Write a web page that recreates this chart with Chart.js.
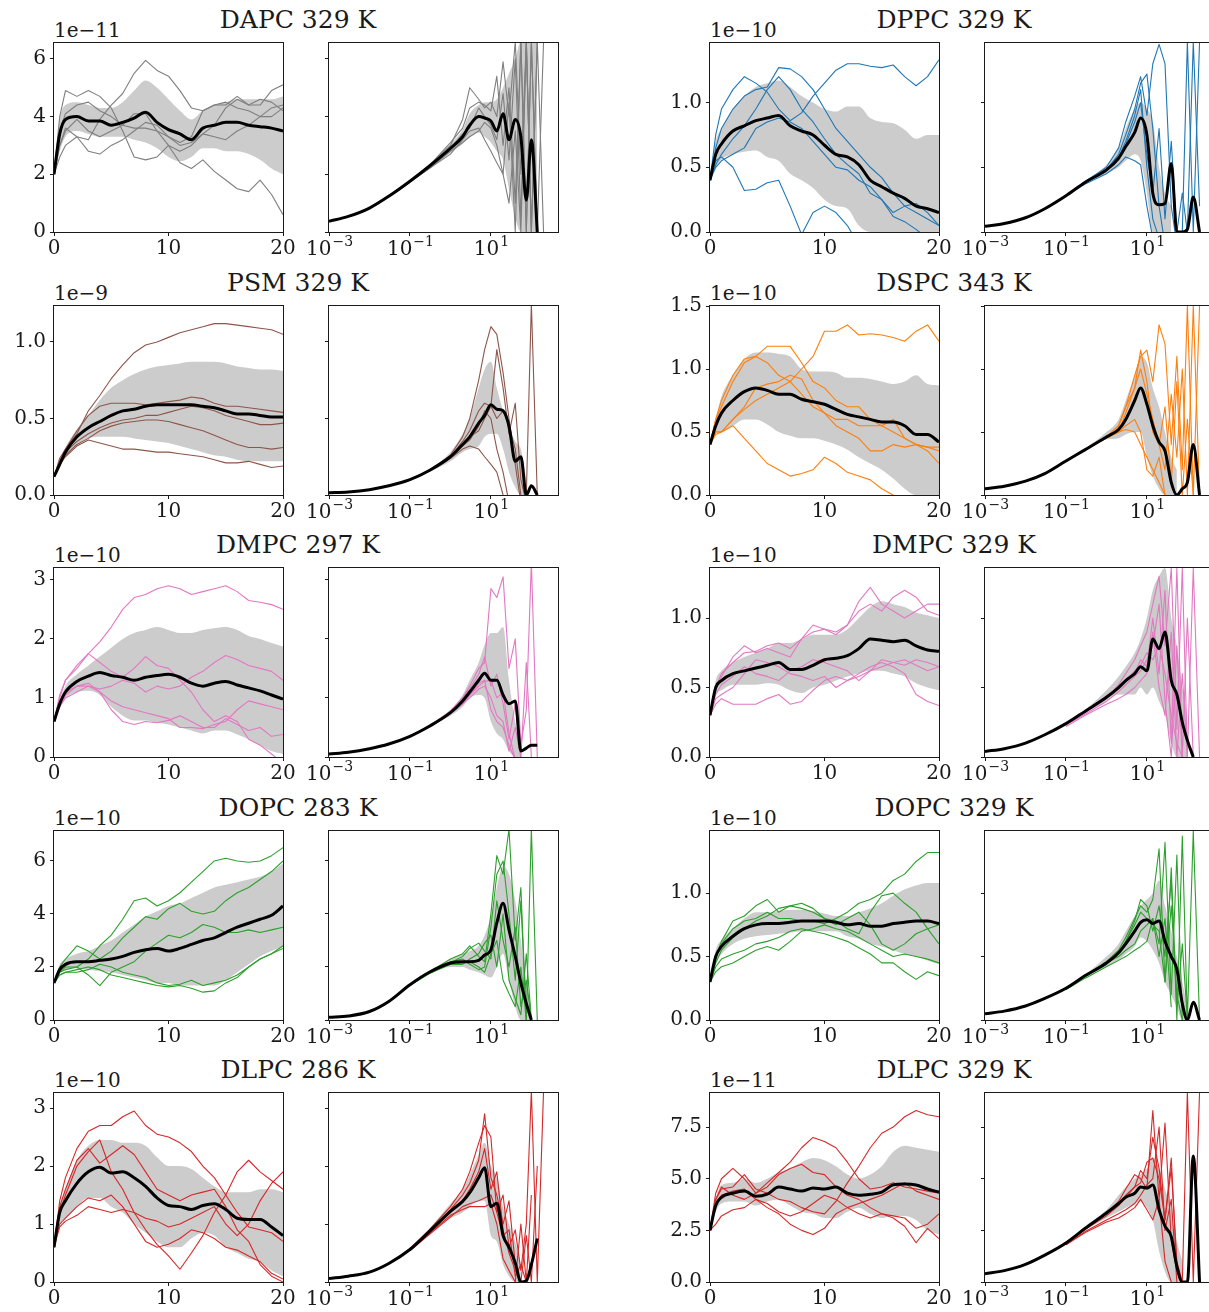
<!DOCTYPE html>
<html>
<head>
<meta charset="utf-8">
<script src="https://cdn.jsdelivr.net/npm/chart.js@4.4.0/dist/chart.umd.min.js"></script>
<style>
  html, body { margin: 0; padding: 0; background: #fff; overflow: hidden; }
  #fig { position: relative; width: 1209px; height: 1312px; overflow: hidden; font-family: "DejaVu Serif", serif; color: #1a1a1a; }
  #fig canvas { position: absolute; }
  .title { position: absolute; font-size: 25px; line-height: 28px; white-space: nowrap; transform: translateX(-50%); }
  .offset { position: absolute; font-size: 20px; line-height: 22px; white-space: nowrap; }
</style>
</head>
<body>
<div id="fig"></div>
<script>
// x grids
const LIN_X = [0, 0.5, 1, 2, 3, 4, 5, 6, 7, 8, 9, 10, 11, 12, 13, 14, 15, 16, 17, 18, 19, 20];
const LOG_X = [0.001, 0.003, 0.01, 0.03, 0.1, 0.3, 1, 2, 3, 5, 7, 10, 14, 20, 28, 40, 55, 75, 100, 140, 200];
const RUN_LOG_X = [0.1, 0.3, 1, 2, 3, 5, 7, 10, 14, 20, 28, 40, 55, 75, 100, 140, 200];
const LIN_X_TICKS = [0, 10, 20];
const LIN_X_LABELS = ["0", "10", "20"];
const LOG_X_TICKS = [1e-3, 1e-1, 1e1];
const LOG_X_BASE = "10";
const LOG_X_EXPONENTS = ["\u22123", "\u22121", "1"];

// DAPC 329 K (1e-11)
const DAPC_YTICKS = [0, 2, 4, 6];
const DAPC_YLABELS = ["0", "2", "4", "6"];
const DAPC_MEAN = [2.0, 3.4, 3.9, 4.0, 3.85, 3.85, 3.7, 3.8, 3.95, 4.15, 3.8, 3.55, 3.4, 3.2, 3.6, 3.7, 3.8, 3.8, 3.7, 3.65, 3.6, 3.5];
const DAPC_LO = [2.0, 2.8, 3.3, 3.5, 3.4, 3.3, 3.3, 3.3, 3.2, 3.1, 2.9, 2.6, 2.45, 2.6, 2.9, 2.9, 2.8, 2.8, 2.7, 2.5, 2.2, 2.0];
const DAPC_HI = [2.0, 3.9, 4.4, 4.5, 4.4, 4.3, 4.3, 4.5, 4.9, 5.25, 5.0, 4.6, 4.2, 3.9, 4.2, 4.4, 4.5, 4.6, 4.6, 4.6, 4.6, 4.7];
const DAPC_RUNS = [
  [2.0, 3.0, 3.6, 3.3, 3.2, 3.9, 4.4, 4.8, 5.5, 5.95, 5.6, 5.4, 4.9, 4.3, 4.2, 4.4, 4.4, 4.7, 4.4, 4.4, 4.9, 5.1],
  [2.0, 4.0, 4.9, 4.7, 4.9, 4.7, 4.3, 3.5, 2.6, 2.5, 2.6, 3.0, 2.8, 3.0, 3.4, 3.7, 4.3, 4.6, 4.4, 4.6, 4.5, 4.2],
  [2.0, 3.0, 3.5, 3.9, 3.5, 3.3, 3.5, 3.7, 4.1, 4.1, 3.5, 3.0, 2.4, 2.2, 2.5, 2.1, 1.8, 1.5, 1.4, 1.8, 1.3, 0.6],
  [2.0, 2.6, 3.0, 3.3, 2.8, 2.7, 3.0, 3.2, 3.5, 3.8, 3.7, 3.3, 3.0, 3.1, 3.4, 3.3, 3.2, 3.5, 3.7, 4.0, 4.3, 4.4],
  [2.0, 3.5, 4.1, 4.4, 4.5, 4.2, 4.0, 3.7, 3.6, 3.6, 3.5, 3.3, 3.1, 3.3, 4.2, 4.4, 4.5, 4.3, 4.2, 4.0, 4.0, 4.3]
];
const DAPC_LOG_MEAN = [0.37, 0.54, 0.83, 1.24, 1.76, 2.28, 2.9, 3.3, 3.7, 4.0, 3.95, 3.85, 3.5, 4.1, 3.2, 3.9, 3.3, 1.1, 3.2, 0, null];
const DAPC_LOG_LO = [0.37, 0.54, 0.83, 1.2, 1.7, 2.2, 2.75, 3.05, 3.3, 3.45, 3.3, 3.1, 2.8, 2.5, 1.5, 0.5, 0, 0, 0, 0, null];
const DAPC_LOG_HI = [0.37, 0.54, 0.83, 1.28, 1.82, 2.36, 3.05, 3.55, 4.1, 4.4, 4.5, 4.5, 4.6, 5.0, 5.5, 6.0, 6.6, 6.6, 6.6, 6.6, null];
const DAPC_LOG_RUNS = [
  [1.78, 2.3, 3.0, 3.9, 5.0, 4.6, 4.3, 4.5, 4.0, 5.9, 4.0, 6.6, 2.0, 6.6, 0, 6.6, 0],
  [1.76, 2.3, 2.9, 3.4, 3.6, 4.3, 4.0, 3.7, 3.2, 4.8, 2.5, 6.0, 0.5, 6.6, 0, 6.6, null],
  [1.74, 2.2, 2.7, 3.2, 3.5, 3.6, 3.2, 2.8, 2.4, 2.0, 4.5, 0, 6.6, 0, 6.6, 0, null],
  [1.77, 2.3, 3.1, 3.6, 4.3, 4.5, 4.4, 4.2, 5.4, 3.0, 5.0, 1.0, 6.6, 0, 6.6, 0, 6.6],
  [1.75, 2.2, 2.8, 3.1, 3.3, 3.5, 3.8, 3.6, 3.0, 2.0, 1.0, 3.5, 0, 6.6, 0, null, null]
];

// DPPC 329 K (1e-10)
const DPPC_YTICKS = [0, 0.5, 1.0];
const DPPC_YLABELS = ["0.0", "0.5", "1.0"];
const DPPC_MEAN = [0.4, 0.6, 0.68, 0.78, 0.82, 0.86, 0.88, 0.9, 0.82, 0.78, 0.75, 0.67, 0.6, 0.58, 0.52, 0.4, 0.35, 0.3, 0.26, 0.2, 0.18, 0.15];
const DPPC_LO = [0.4, 0.5, 0.56, 0.6, 0.62, 0.63, 0.58, 0.55, 0.45, 0.4, 0.34, 0.25, 0.2, 0.18, 0.05, 0, 0, 0, 0, 0, 0, 0];
const DPPC_HI = [0.4, 0.7, 0.8, 0.95, 1.05, 1.12, 1.15, 1.17, 1.12, 1.05, 1.0, 0.95, 0.93, 0.97, 0.97, 0.88, 0.85, 0.84, 0.79, 0.72, 0.75, 0.75];
const DPPC_RUNS = [
  [0.4, 0.75, 0.95, 1.1, 1.2, 1.15, 1.08, 0.95, 0.86, 0.92, 1.05, 1.15, 1.25, 1.3, 1.3, 1.28, 1.27, 1.29, 1.2, 1.13, 1.2, 1.33],
  [0.4, 0.65, 0.8, 0.95, 1.05, 1.1, 1.12, 1.27, 1.26, 1.2, 1.1, 0.95, 0.8, 0.7, 0.6, 0.5, 0.42, 0.3, 0.2, 0.15, 0.1, 0.05],
  [0.4, 0.52, 0.6, 0.72, 0.82, 0.95, 1.1, 1.2, 1.1, 0.95, 0.85, 0.72, 0.6, 0.52, 0.45, 0.3, 0.25, 0.12, 0.08, 0.02, -0.05, -0.1],
  [0.4, 0.55, 0.58, 0.5, 0.32, 0.33, 0.38, 0.4, 0.2, -0.02, 0.15, 0.2, 0.15, 0.05, -0.1, -0.1, -0.1, -0.1, -0.1, -0.1, -0.1, -0.1],
  [0.4, 0.5, 0.55, 0.6, 0.65, 0.8, 0.85, 0.88, 0.85, 0.8, 0.7, 0.6, 0.5, 0.48, 0.4, 0.35, 0.25, 0.15, 0.2, 0.22, 0.15, 0.05]
];
const DPPC_LOG_MEAN = [0.044, 0.065, 0.11, 0.18, 0.28, 0.385, 0.48, 0.57, 0.66, 0.77, 0.88, 0.75, 0.3, 0.21, 0.22, 0.53, 0, 0, 0.02, 0.27, 0];
const DPPC_LOG_LO = [0.044, 0.065, 0.11, 0.18, 0.28, 0.38, 0.45, 0.5, 0.55, 0.6, 0.55, 0.3, 0, 0, 0, 0, null, null, null, null, null];
const DPPC_LOG_HI = [0.044, 0.065, 0.11, 0.18, 0.28, 0.39, 0.52, 0.65, 0.8, 0.95, 1.0, 0.95, 0.85, 0.5, 0.3, 0.2, null, null, null, null, null];
const DPPC_LOG_RUNS = [
  [0.28, 0.39, 0.5, 0.65, 0.85, 1.05, 1.2, 0.9, 1.3, 1.45, 1.3, 0.2, -0.1, 0, 1.47, 0, 1.47],
  [0.28, 0.38, 0.48, 0.6, 0.75, 0.95, 1.15, 1.22, 0.8, 0.2, -0.1, null, null, null, null, null, null],
  [0.28, 0.37, 0.45, 0.52, 0.58, 0.55, 0.52, 0.2, -0.05, null, null, null, null, null, null, null, null],
  [0.28, 0.38, 0.47, 0.57, 0.68, 0.85, 1.0, 0.6, 0.3, 0.8, 0.1, 0.7, 0, 0.3, 0, 1.47, 0.2],
  [0.28, 0.38, 0.48, 0.58, 0.7, 0.9, 1.1, 0.5, 0.1, -0.05, null, null, null, null, null, null, null]
];

// PSM 329 K (1e-9)
const PSM_YTICKS = [0, 0.5, 1.0];
const PSM_YLABELS = ["0.0", "0.5", "1.0"];
const PSM_MEAN = [0.12, 0.2, 0.28, 0.38, 0.44, 0.48, 0.52, 0.55, 0.56, 0.58, 0.59, 0.59, 0.59, 0.59, 0.58, 0.57, 0.55, 0.53, 0.53, 0.52, 0.51, 0.51];
const PSM_LO = [0.12, 0.2, 0.25, 0.33, 0.37, 0.38, 0.38, 0.38, 0.37, 0.36, 0.35, 0.34, 0.32, 0.3, 0.28, 0.26, 0.25, 0.23, 0.22, 0.22, 0.22, 0.22];
const PSM_HI = [0.12, 0.22, 0.31, 0.43, 0.52, 0.62, 0.7, 0.75, 0.79, 0.82, 0.84, 0.85, 0.86, 0.87, 0.87, 0.87, 0.86, 0.84, 0.83, 0.82, 0.82, 0.81];
const PSM_RUNS = [
  [0.12, 0.22, 0.3, 0.4, 0.55, 0.65, 0.76, 0.85, 0.93, 0.98, 1.0, 1.03, 1.06, 1.08, 1.1, 1.12, 1.12, 1.11, 1.1, 1.09, 1.08, 1.05],
  [0.12, 0.24, 0.3, 0.42, 0.52, 0.58, 0.6, 0.6, 0.6, 0.59, 0.6, 0.61, 0.62, 0.64, 0.63, 0.6, 0.58, 0.58, 0.57, 0.56, 0.55, 0.54],
  [0.12, 0.22, 0.28, 0.35, 0.4, 0.44, 0.47, 0.49, 0.5, 0.52, 0.52, 0.54, 0.56, 0.58, 0.57, 0.55, 0.52, 0.5, 0.48, 0.46, 0.46, 0.47],
  [0.12, 0.2, 0.26, 0.33, 0.37, 0.42, 0.45, 0.47, 0.48, 0.49, 0.49, 0.48, 0.46, 0.44, 0.42, 0.39, 0.36, 0.33, 0.31, 0.31, 0.3, 0.31],
  [0.12, 0.2, 0.25, 0.32, 0.36, 0.34, 0.32, 0.3, 0.3, 0.29, 0.28, 0.28, 0.27, 0.26, 0.25, 0.23, 0.21, 0.21, 0.22, 0.2, 0.18, 0.19]
];
const PSM_LOG_MEAN = [0.015, 0.02, 0.035, 0.06, 0.1, 0.16, 0.25, 0.33, 0.38, 0.47, 0.52, 0.59, 0.56, 0.55, 0.45, 0.22, 0.25, 0.0, 0.06, 0, null];
const PSM_LOG_LO = [0.015, 0.02, 0.035, 0.06, 0.1, 0.15, 0.22, 0.28, 0.3, 0.32, 0.38, 0.4, 0.4, 0.3, 0.15, 0.05, 0, 0, null, null, null];
const PSM_LOG_HI = [0.015, 0.02, 0.035, 0.06, 0.1, 0.17, 0.28, 0.4, 0.5, 0.7, 0.82, 0.87, 0.7, 0.55, 0.45, 0.35, 0.3, 0.1, null, null, null];
const PSM_LOG_RUNS = [
  [0.1, 0.16, 0.26, 0.38, 0.5, 0.75, 0.95, 1.1, 1.05, 0.8, 0.5, 0.2, -0.05, 0, 1.25, 0, null],
  [0.1, 0.16, 0.25, 0.35, 0.42, 0.55, 0.6, 0.58, 0.95, 0.7, 0.4, 0.6, 0.1, -0.05, null, null, null],
  [0.1, 0.16, 0.25, 0.33, 0.38, 0.42, 0.5, 0.58, 0.5, 0.55, 0.45, 0.3, 0, null, null, null, null],
  [0.1, 0.16, 0.24, 0.3, 0.32, 0.3, 0.25, 0.2, 0.15, 0.0, null, null, null, null, null, null, null],
  [0.1, 0.16, 0.25, 0.32, 0.36, 0.45, 0.55, 0.5, 0.3, 0.15, -0.05, null, null, null, null, null, null]
];

// DSPC 343 K (1e-10)
const DSPC_YTICKS = [0, 0.5, 1.0, 1.5];
const DSPC_YLABELS = ["0.0", "0.5", "1.0", "1.5"];
const DSPC_MEAN = [0.4, 0.55, 0.65, 0.75, 0.82, 0.85, 0.83, 0.8, 0.8, 0.76, 0.74, 0.72, 0.68, 0.64, 0.62, 0.6, 0.58, 0.58, 0.55, 0.48, 0.48, 0.42];
const DSPC_LO = [0.4, 0.5, 0.5, 0.55, 0.6, 0.6, 0.56, 0.5, 0.47, 0.45, 0.45, 0.43, 0.4, 0.36, 0.3, 0.25, 0.2, 0.13, 0.05, 0, 0, 0];
const DSPC_HI = [0.4, 0.6, 0.78, 0.95, 1.08, 1.13, 1.13, 1.12, 1.1, 1.0, 0.98, 0.98, 0.97, 0.93, 0.93, 0.92, 0.9, 0.88, 0.9, 0.95, 0.88, 0.87];
const DSPC_RUNS = [
  [0.4, 0.48, 0.5, 0.6, 0.68, 0.75, 0.8, 0.85, 0.9, 1.0, 1.1, 1.3, 1.3, 1.35, 1.27, 1.28, 1.27, 1.25, 1.22, 1.3, 1.35, 1.22],
  [0.4, 0.6, 0.75, 0.95, 1.08, 1.1, 1.18, 1.18, 1.18, 1.05, 0.9, 0.85, 0.75, 0.7, 0.7, 0.6, 0.55, 0.6, 0.45, 0.4, 0.38, 0.38],
  [0.4, 0.6, 0.7, 0.9, 1.05, 1.1, 1.05, 0.95, 0.9, 0.8, 0.7, 0.65, 0.55, 0.5, 0.45, 0.35, 0.35, 0.4, 0.38, 0.4, 0.35, 0.25],
  [0.4, 0.5, 0.5, 0.6, 0.7, 0.85, 0.88, 0.9, 0.95, 0.92, 0.75, 0.65, 0.6, 0.6, 0.55, 0.55, 0.55, 0.5, 0.45, 0.4, 0.38, 0.35],
  [0.4, 0.5, 0.5, 0.55, 0.45, 0.35, 0.25, 0.2, 0.15, 0.17, 0.2, 0.3, 0.25, 0.18, 0.15, 0.12, 0.05, 0.0, -0.1, -0.1, -0.1, -0.1]
];
const DSPC_LOG_MEAN = [0.05, 0.07, 0.11, 0.17, 0.27, 0.36, 0.46, 0.52, 0.6, 0.75, 0.85, 0.72, 0.55, 0.42, 0.35, 0.1, 0.0, 0.05, 0.1, 0.4, 0];
const DSPC_LOG_LO = [0.05, 0.07, 0.11, 0.17, 0.27, 0.35, 0.44, 0.45, 0.48, 0.5, 0.5, 0.3, 0.15, 0.05, 0, 0, 0, null, null, null, null];
const DSPC_LOG_HI = [0.05, 0.07, 0.11, 0.17, 0.27, 0.37, 0.5, 0.6, 0.75, 0.95, 1.1, 1.05, 0.85, 0.7, 0.5, 0.3, 0.2, null, null, null, null];
const DSPC_LOG_RUNS = [
  [0.27, 0.36, 0.46, 0.55, 0.7, 0.95, 1.1, 1.15, 0.9, 1.35, 1.2, 0.4, 1.1, 0.2, 1.5, 0, 1.5],
  [0.27, 0.36, 0.46, 0.5, 0.55, 0.6, 0.5, 0.2, 0.15, 0.3, 0.0, null, null, null, null, null, null],
  [0.27, 0.36, 0.46, 0.55, 0.7, 0.85, 1.0, 0.8, 0.6, 0.4, 0.7, 0.1, 0.9, 0, 0.6, 0, null],
  [0.27, 0.36, 0.45, 0.5, 0.65, 0.85, 1.15, 0.9, 0.5, 0.4, 0.2, 0.8, 0.3, 1.0, 0, 1.5, 0],
  [0.27, 0.36, 0.46, 0.5, 0.52, 0.5, 0.4, 0.3, 0.2, 0.1, 0.0, null, null, null, null, null, null]
];

// DMPC 297 K (1e-10)
const DMPC297_YTICKS = [0, 1, 2, 3];
const DMPC297_YLABELS = ["0", "1", "2", "3"];
const DMPC297_MEAN = [0.6, 0.9, 1.1, 1.28, 1.37, 1.43, 1.38, 1.35, 1.3, 1.35, 1.38, 1.4, 1.35, 1.25, 1.2, 1.25, 1.28, 1.22, 1.17, 1.12, 1.05, 0.98];
const DMPC297_LO = [0.6, 0.85, 1.0, 1.1, 1.12, 1.05, 0.85, 0.7, 0.62, 0.62, 0.58, 0.55, 0.5, 0.45, 0.4, 0.45, 0.45, 0.38, 0.3, 0.2, 0.1, 0.05];
const DMPC297_HI = [0.6, 0.95, 1.2, 1.4, 1.55, 1.7, 1.85, 2.0, 2.1, 2.15, 2.2, 2.15, 2.1, 2.1, 2.15, 2.18, 2.2, 2.15, 2.05, 2.0, 1.93, 1.87];
const DMPC297_RUNS = [
  [0.6, 1.0, 1.3, 1.55, 1.75, 1.95, 2.2, 2.5, 2.7, 2.75, 2.85, 2.9, 2.85, 2.75, 2.8, 2.85, 2.9, 2.8, 2.65, 2.62, 2.58, 2.5],
  [0.6, 1.05, 1.3, 1.5, 1.75, 1.6, 1.45, 1.35, 1.5, 1.7, 1.55, 1.5, 1.3, 1.1, 0.8, 0.6, 0.7, 0.6, 0.3, 0.2, 0.05, -0.1],
  [0.6, 0.9, 1.1, 1.2, 1.2, 1.15, 1.2, 1.3, 1.25, 1.1, 1.2, 1.15, 1.2, 1.35, 1.45, 1.6, 1.72, 1.65, 1.55, 1.5, 1.45, 1.3],
  [0.6, 0.85, 1.0, 1.1, 1.2, 1.1, 0.95, 0.85, 0.8, 0.75, 0.7, 0.65, 0.5, 0.5, 0.48, 0.55, 0.6, 0.8, 0.95, 0.9, 0.85, 0.8],
  [0.6, 0.85, 1.05, 1.2, 1.25, 1.1, 0.8, 0.6, 0.55, 0.6, 0.58, 0.62, 0.7, 0.6, 0.5, 0.5, 0.65, 0.55, 0.45, 0.5, 0.35, 0.38]
];
const DMPC297_LOG_MEAN = [0.05, 0.08, 0.14, 0.22, 0.35, 0.52, 0.75, 0.95, 1.1, 1.3, 1.42, 1.3, 1.3, 1.05, 0.9, 0.95, 0.1, 0.15, 0.2, 0.2, null];
const DMPC297_LOG_LO = [0.05, 0.08, 0.14, 0.22, 0.35, 0.51, 0.7, 0.85, 1.0, 1.05, 1.0, 0.6, 0.4, 0.3, 0.1, 0, 0, null, null, null, null];
const DMPC297_LOG_HI = [0.05, 0.08, 0.14, 0.22, 0.35, 0.53, 0.8, 1.05, 1.3, 1.6, 1.9, 2.1, 2.1, 2.2, 1.3, 0.6, 0.3, null, null, null, null];
const DMPC297_LOG_RUNS = [
  [0.35, 0.52, 0.78, 1.0, 1.2, 1.5, 1.6, 2.85, 2.7, 3.05, 1.5, 2.0, 0.2, 0.8, 3.3, 0, null],
  [0.35, 0.52, 0.76, 1.0, 1.15, 1.4, 1.7, 1.2, 1.4, 0.9, 0.3, 0.9, 0, 1.6, 0, null, null],
  [0.35, 0.52, 0.75, 0.9, 1.05, 1.25, 1.3, 0.8, 0.6, 0.5, 0.2, -0.05, null, null, null, null, null],
  [0.35, 0.5, 0.73, 0.9, 1.0, 1.15, 1.2, 1.0, 0.7, 0.6, 0.1, 0.5, 0, null, null, null, null],
  [0.35, 0.51, 0.74, 0.92, 1.05, 1.2, 1.28, 1.3, 1.0, 1.1, 0.4, -0.05, null, null, null, null, null]
];

// DMPC 329 K (1e-10)
const DMPC329_YTICKS = [0, 0.5, 1.0];
const DMPC329_YLABELS = ["0.0", "0.5", "1.0"];
const DMPC329_MEAN = [0.3, 0.5, 0.55, 0.6, 0.62, 0.64, 0.66, 0.68, 0.63, 0.63, 0.66, 0.7, 0.71, 0.73, 0.78, 0.85, 0.84, 0.83, 0.84, 0.8, 0.77, 0.76];
const DMPC329_LO = [0.3, 0.45, 0.48, 0.52, 0.52, 0.52, 0.53, 0.52, 0.48, 0.46, 0.5, 0.52, 0.55, 0.58, 0.6, 0.62, 0.62, 0.6, 0.58, 0.53, 0.5, 0.48];
const DMPC329_HI = [0.3, 0.55, 0.62, 0.68, 0.72, 0.75, 0.78, 0.82, 0.82, 0.85, 0.88, 0.88, 0.88, 0.92, 1.0, 1.08, 1.12, 1.1, 1.08, 1.04, 1.02, 1.0];
const DMPC329_RUNS = [
  [0.3, 0.5, 0.58, 0.72, 0.8, 0.75, 0.78, 0.75, 0.72, 0.85, 0.9, 0.92, 0.9, 0.95, 1.12, 1.22, 1.1, 1.05, 1.0, 1.05, 1.1, 1.1],
  [0.3, 0.5, 0.6, 0.68, 0.75, 0.76, 0.8, 0.82, 0.78, 0.85, 0.95, 0.92, 0.88, 0.95, 1.05, 1.1, 1.05, 1.15, 1.2, 1.15, 1.05, 1.02],
  [0.3, 0.42, 0.45, 0.5, 0.6, 0.7, 0.68, 0.65, 0.6, 0.58, 0.55, 0.58, 0.5, 0.55, 0.6, 0.65, 0.68, 0.65, 0.6, 0.45, 0.4, 0.37],
  [0.3, 0.38, 0.42, 0.38, 0.38, 0.38, 0.42, 0.45, 0.38, 0.4, 0.48, 0.55, 0.58, 0.55, 0.58, 0.62, 0.65, 0.68, 0.7, 0.66, 0.62, 0.65],
  [0.3, 0.45, 0.52, 0.58, 0.65, 0.6, 0.58, 0.55, 0.62, 0.65, 0.7, 0.68, 0.65, 0.62, 0.55, 0.62, 0.7, 0.68, 0.66, 0.7, 0.68, 0.65]
];
const DMPC329_LOG_MEAN = [0.04, 0.06, 0.1, 0.16, 0.24, 0.33, 0.43, 0.5, 0.55, 0.6, 0.65, 0.62, 0.85, 0.78, 0.9, 0.55, 0.45, 0.25, 0.12, 0, null];
const DMPC329_LOG_LO = [0.04, 0.06, 0.1, 0.16, 0.24, 0.32, 0.4, 0.45, 0.45, 0.45, 0.5, 0.45, 0.5, 0.4, 0.3, 0.1, 0, 0, 0, null, null];
const DMPC329_LOG_HI = [0.04, 0.06, 0.1, 0.16, 0.24, 0.34, 0.48, 0.58, 0.65, 0.75, 0.85, 1.0, 1.2, 1.3, 1.36, 1.0, 0.8, 0.5, 0.3, null, null];
const DMPC329_LOG_RUNS = [
  [0.24, 0.32, 0.42, 0.52, 0.6, 0.7, 0.8, 0.9, 1.1, 1.3, 0.8, 1.36, 0.2, 1.36, 0, 1.36, 0],
  [0.24, 0.33, 0.44, 0.5, 0.55, 0.6, 0.7, 0.65, 1.0, 0.6, 1.2, 0.1, 1.36, 0, 1.0, 0, null],
  [0.22, 0.3, 0.38, 0.42, 0.45, 0.5, 0.55, 0.6, 0.9, 0.5, 0.3, 0.9, 0, 0.6, 0, null, null],
  [0.23, 0.31, 0.4, 0.47, 0.52, 0.58, 0.62, 0.7, 0.8, 1.1, 0.4, 0.0, 0.8, 0.0, null, null, null],
  [0.24, 0.33, 0.43, 0.5, 0.55, 0.62, 0.66, 0.75, 0.7, 0.8, 0.6, 0.3, 0.1, 0.0, null, null, null]
];

// DOPC 283 K (1e-10)
const DOPC283_YTICKS = [0, 2, 4, 6];
const DOPC283_YLABELS = ["0", "2", "4", "6"];
const DOPC283_MEAN = [1.4, 1.9, 2.1, 2.2, 2.2, 2.25, 2.3, 2.4, 2.55, 2.65, 2.7, 2.6, 2.7, 2.85, 3.0, 3.1, 3.3, 3.5, 3.65, 3.8, 3.95, 4.3];
const DOPC283_LO = [1.4, 1.8, 1.9, 1.95, 1.9, 1.85, 1.8, 1.7, 1.6, 1.5, 1.4, 1.4, 1.3, 1.3, 1.3, 1.3, 1.5, 1.8, 2.1, 2.4, 2.6, 2.8];
const DOPC283_HI = [1.4, 2.1, 2.3, 2.5, 2.6, 2.8, 3.0, 3.3, 3.6, 3.9, 4.1, 4.3, 4.4, 4.6, 4.8, 5.0, 5.1, 5.2, 5.3, 5.4, 5.6, 5.9];
const DOPC283_RUNS = [
  [1.4, 1.8, 1.9, 2.0, 2.3, 2.8, 3.2, 3.8, 4.5, 4.6, 4.3, 4.5, 4.8, 5.2, 5.6, 6.0, 6.1, 6.0, 5.95, 6.0, 6.2, 6.5],
  [1.4, 2.0, 2.3, 2.8, 2.6, 2.3, 2.6, 3.1, 3.5, 3.9, 3.8, 4.2, 4.4, 4.1, 4.0, 4.1, 4.5, 4.8, 5.0, 5.3, 5.6, 6.0],
  [1.4, 1.8, 2.0, 2.0, 1.7, 1.3, 1.8, 2.0, 2.2, 2.6, 2.9, 3.2, 3.1, 3.3, 3.6, 3.5, 3.3, 3.3, 3.4, 3.3, 3.4, 3.5],
  [1.4, 1.7, 1.8, 1.8, 1.9, 2.1, 2.0, 1.8, 1.7, 1.6, 1.4, 1.3, 1.35, 1.5, 1.3, 1.4, 1.5, 1.7, 2.0, 2.3, 2.5, 2.8],
  [1.4, 1.7, 1.8, 1.9, 2.0, 1.9, 1.7, 1.6, 1.5, 1.4, 1.3, 1.25, 1.3, 1.2, 1.05, 1.1, 1.4, 1.6, 2.0, 2.3, 2.5, 2.7]
];
const DOPC283_LOG_MEAN = [0.1, 0.15, 0.32, 0.7, 1.33, 1.8, 2.15, 2.2, 2.2, 2.25, 2.45, 2.65, 3.66, 4.4, 3.4, 2.4, 1.4, 0.63, 0, null, null];
const DOPC283_LOG_LO = [0.1, 0.15, 0.32, 0.7, 1.3, 1.75, 2.0, 2.0, 1.9, 1.8, 1.7, 1.6, 2.0, 2.5, 1.5, 0.5, 0, 0, 0, null, null];
const DOPC283_LOG_HI = [0.1, 0.15, 0.32, 0.7, 1.35, 1.85, 2.3, 2.5, 2.6, 2.8, 3.2, 3.9, 5.0, 5.8, 5.5, 4.5, 3.0, 1.5, 0.5, null, null];
const DOPC283_LOG_RUNS = [
  [1.33, 1.8, 2.3, 2.5, 2.8, 2.4, 2.2, 4.0, 6.2, 5.5, 7.2, 3.0, 5.0, 0, 7.2, 0, null],
  [1.33, 1.8, 2.2, 2.3, 2.1, 1.9, 2.0, 3.5, 5.5, 6.0, 4.0, 1.5, 4.5, 0, null, null, null],
  [1.33, 1.8, 2.15, 2.4, 2.7, 2.9, 2.6, 2.3, 4.5, 3.0, 2.0, 3.5, 0.5, 1.5, 0, null, null],
  [1.32, 1.75, 2.1, 2.15, 2.2, 2.0, 1.8, 2.5, 3.0, 1.5, 1.0, 0.5, 2.0, 0.0, null, null, null],
  [1.3, 1.75, 2.1, 2.1, 2.3, 2.5, 2.9, 3.2, 2.0, 4.0, 1.5, 0.8, 0.2, 2.5, 0, null, null]
];

// DOPC 329 K (1e-10)
const DOPC329_YTICKS = [0, 0.5, 1.0];
const DOPC329_YLABELS = ["0.0", "0.5", "1.0"];
const DOPC329_MEAN = [0.3, 0.5, 0.58, 0.66, 0.72, 0.75, 0.76, 0.76, 0.77, 0.78, 0.78, 0.78, 0.77, 0.75, 0.76, 0.74, 0.74, 0.76, 0.77, 0.78, 0.78, 0.76];
const DOPC329_LO = [0.3, 0.45, 0.52, 0.6, 0.64, 0.66, 0.67, 0.68, 0.69, 0.7, 0.7, 0.7, 0.7, 0.66, 0.64, 0.6, 0.58, 0.55, 0.52, 0.5, 0.47, 0.44];
const DOPC329_HI = [0.3, 0.55, 0.63, 0.72, 0.8, 0.85, 0.85, 0.86, 0.87, 0.87, 0.86, 0.84, 0.82, 0.82, 0.85, 0.88, 0.92, 0.98, 1.03, 1.06, 1.08, 1.08];
const DOPC329_RUNS = [
  [0.3, 0.5, 0.6, 0.72, 0.78, 0.8, 0.85, 0.8, 0.8, 0.78, 0.78, 0.76, 0.8, 0.85, 0.92, 0.95, 1.0, 1.1, 1.15, 1.25, 1.32, 1.32],
  [0.3, 0.5, 0.62, 0.78, 0.82, 0.9, 0.95, 0.85, 0.9, 0.92, 0.88, 0.8, 0.78, 0.72, 0.68, 0.85, 0.98, 1.0, 0.92, 0.85, 0.72, 0.6],
  [0.3, 0.45, 0.55, 0.65, 0.72, 0.78, 0.82, 0.88, 0.9, 0.88, 0.85, 0.8, 0.75, 0.8, 0.85, 0.75, 0.6, 0.55, 0.6, 0.68, 0.72, 0.75],
  [0.3, 0.42, 0.48, 0.52, 0.55, 0.6, 0.62, 0.65, 0.7, 0.72, 0.7, 0.68, 0.65, 0.62, 0.57, 0.52, 0.45, 0.45, 0.38, 0.32, 0.38, 0.35],
  [0.3, 0.38, 0.42, 0.45, 0.5, 0.55, 0.58, 0.55, 0.62, 0.7, 0.72, 0.75, 0.72, 0.7, 0.65, 0.6, 0.55, 0.5, 0.52, 0.5, 0.48, 0.45]
];
const DOPC329_LOG_MEAN = [0.05, 0.07, 0.11, 0.17, 0.25, 0.35, 0.45, 0.53, 0.6, 0.7, 0.77, 0.79, 0.76, 0.78, 0.62, 0.5, 0.4, 0.13, 0, 0.14, 0];
const DOPC329_LOG_LO = [0.05, 0.07, 0.11, 0.17, 0.24, 0.34, 0.42, 0.47, 0.52, 0.58, 0.65, 0.62, 0.55, 0.45, 0.3, 0.2, 0.1, 0, 0, null, null];
const DOPC329_LOG_HI = [0.05, 0.07, 0.11, 0.17, 0.26, 0.36, 0.5, 0.6, 0.7, 0.82, 0.9, 0.95, 1.0, 1.1, 0.9, 0.7, 0.5, 0.3, 0.1, null, null];
const DOPC329_LOG_RUNS = [
  [0.25, 0.35, 0.46, 0.55, 0.65, 0.8, 0.9, 0.85, 0.95, 1.35, 0.3, 1.2, 0.0, 1.45, 0, 1.49, 0],
  [0.25, 0.35, 0.45, 0.5, 0.55, 0.6, 0.7, 0.75, 0.8, 0.6, 1.4, 0.2, 1.3, 0, null, null, null],
  [0.24, 0.34, 0.44, 0.52, 0.62, 0.78, 0.95, 0.9, 0.7, 0.9, 0.5, 1.1, 0.1, 0.6, 0, null, null],
  [0.24, 0.33, 0.42, 0.47, 0.5, 0.55, 0.58, 0.62, 0.8, 0.5, 0.8, 0.1, null, null, null, null, null],
  [0.25, 0.35, 0.45, 0.53, 0.62, 0.75, 0.85, 0.8, 0.75, 0.7, 0.3, 0.9, 0.2, 0.0, null, null, null]
];

// DLPC 286 K (1e-10)
const DLPC286_YTICKS = [0, 1, 2, 3];
const DLPC286_YLABELS = ["0", "1", "2", "3"];
const DLPC286_MEAN = [0.6, 1.2, 1.4, 1.7, 1.9, 1.98, 1.88, 1.9, 1.8, 1.65, 1.45, 1.32, 1.3, 1.25, 1.32, 1.35, 1.25, 1.1, 1.08, 1.08, 0.95, 0.8];
const DLPC286_LO = [0.6, 1.0, 1.1, 1.3, 1.45, 1.45, 1.3, 1.2, 1.0, 0.85, 0.7, 0.6, 0.6, 0.75, 0.85, 0.8, 0.6, 0.5, 0.4, 0.35, 0.2, 0.1];
const DLPC286_HI = [0.6, 1.3, 1.6, 2.1, 2.35, 2.45, 2.45, 2.4, 2.4, 2.35, 2.15, 2.0, 2.0, 1.95, 1.8, 1.65, 1.55, 1.55, 1.55, 1.6, 1.6, 1.55];
const DLPC286_RUNS = [
  [0.6, 1.4, 1.8, 2.3, 2.6, 2.7, 2.7, 2.85, 2.95, 2.7, 2.55, 2.5, 2.4, 2.25, 2.0, 1.8, 1.5, 1.2, 0.95, 0.9, 0.85, 0.7],
  [0.6, 1.2, 1.5, 2.0, 2.25, 2.45, 1.9, 1.6, 1.2, 0.9, 0.65, 0.45, 0.22, 0.5, 0.8, 1.2, 1.5, 1.9, 2.1, 1.9, 1.75, 1.6],
  [0.6, 1.3, 1.6, 2.1, 2.3, 2.05, 2.2, 2.35, 2.2, 1.9, 1.6, 1.5, 1.4, 1.5, 1.55, 1.6, 1.3, 0.9, 0.7, 0.3, 0.1, 0.0],
  [0.6, 1.0, 1.1, 1.3, 1.45, 1.4, 1.5, 1.3, 1.0, 0.7, 0.6, 0.65, 0.75, 0.9, 0.85, 0.75, 0.6, 0.55, 0.45, 0.35, 0.15, 0.05],
  [0.6, 0.95, 1.05, 1.15, 1.3, 1.25, 1.2, 1.25, 1.2, 1.1, 1.05, 0.95, 1.0, 1.1, 1.2, 1.3, 1.0, 0.8, 1.0, 1.4, 1.7, 1.9]
];
const DLPC286_LOG_MEAN = [0.06, 0.1, 0.17, 0.32, 0.56, 0.87, 1.22, 1.39, 1.54, 1.8, 1.97, 1.3, 1.36, 0.8, 0.6, 0.33, 0, 0.02, 0.3, 0.75, null];
const DLPC286_LOG_LO = [0.06, 0.1, 0.17, 0.31, 0.54, 0.83, 1.1, 1.2, 1.3, 1.4, 1.4, 0.8, 0.7, 0.3, 0.1, 0, 0, null, null, null, null];
const DLPC286_LOG_HI = [0.06, 0.1, 0.17, 0.33, 0.58, 0.92, 1.35, 1.6, 1.85, 2.2, 2.4, 2.0, 1.8, 1.3, 1.0, 0.7, 0.3, null, null, null, null];
const DLPC286_LOG_RUNS = [
  [0.58, 0.9, 1.3, 1.6, 1.9, 2.4, 2.7, 2.5, 1.2, 1.5, 0.6, 0.9, 0.2, 1.0, 3.3, 0, 3.3],
  [0.56, 0.88, 1.25, 1.5, 1.7, 2.1, 2.9, 1.8, 1.5, 1.0, 1.4, 0.3, 0.0, 0.8, 0, 2.0, null],
  [0.55, 0.85, 1.2, 1.4, 1.6, 1.9, 2.3, 1.6, 1.9, 0.9, 0.5, 0.2, 0, null, null, null, null],
  [0.54, 0.82, 1.12, 1.3, 1.35, 1.4, 1.45, 1.5, 1.2, 0.8, 0.9, 0.1, 0.3, 0, null, null, null],
  [0.55, 0.84, 1.15, 1.25, 1.3, 1.3, 1.3, 1.35, 1.0, 0.4, 0.2, 0, 1.0, 0.0, 1.5, null, null]
];

// DLPC 329 K (1e-11)
const DLPC329_YTICKS = [0, 2.5, 5.0, 7.5];
const DLPC329_YLABELS = ["0.0", "2.5", "5.0", "7.5"];
const DLPC329_MEAN = [2.5, 3.7, 4.1, 4.3, 4.4, 4.15, 4.25, 4.6, 4.5, 4.4, 4.55, 4.5, 4.6, 4.3, 4.2, 4.25, 4.35, 4.7, 4.75, 4.7, 4.5, 4.35];
const DLPC329_LO = [2.5, 3.4, 3.8, 3.9, 3.9, 3.7, 3.9, 4.0, 3.7, 3.4, 3.3, 3.1, 3.1, 3.4, 3.6, 3.3, 3.1, 3.2, 3.2, 3.0, 2.5, 2.3];
const DLPC329_HI = [2.5, 4.0, 4.7, 4.8, 5.0, 4.8, 5.0, 5.3, 5.5, 5.8, 6.0, 5.9, 5.6, 5.2, 5.0, 5.2, 5.6, 6.3, 6.6, 6.5, 6.4, 6.3];
const DLPC329_RUNS = [
  [2.5, 4.0, 4.5, 4.6, 5.2, 4.5, 4.3, 4.0, 3.9, 3.6, 3.4, 3.3, 3.9, 4.8, 5.6, 6.5, 7.2, 7.5, 8.0, 8.3, 8.1, 8.0],
  [2.5, 4.0, 4.6, 4.2, 4.0, 4.3, 4.8, 5.3, 5.8, 6.5, 7.0, 6.8, 6.5, 5.8, 5.0, 4.5, 4.6, 4.8, 4.6, 4.5, 4.4, 4.3],
  [2.5, 4.3, 5.0, 5.5, 5.0, 4.3, 4.6, 5.2, 5.5, 5.7, 5.3, 5.2, 4.6, 4.2, 4.0, 3.6, 3.3, 3.1, 2.7, 1.9, 2.6, 2.1],
  [2.5, 3.8, 4.2, 4.4, 4.5, 4.0, 3.6, 3.3, 2.8, 2.5, 2.3, 2.6, 3.3, 3.6, 3.8, 4.0, 4.2, 4.5, 4.8, 4.4, 4.2, 4.0],
  [2.5, 2.8, 3.2, 3.5, 3.6, 4.0, 3.8, 3.4, 3.2, 3.4, 3.8, 4.2, 4.0, 3.6, 3.3, 3.1, 3.3, 3.2, 3.1, 2.6, 2.8, 3.3]
];
const DLPC329_LOG_MEAN = [0.4, 0.55, 0.85, 1.3, 1.89, 2.6, 3.34, 3.8, 4.1, 4.3, 4.6, 4.55, 4.7, 3.5, 2.7, 2.2, 0.76, 0, 0, 6.1, 0];
const DLPC329_LOG_LO = [0.4, 0.55, 0.85, 1.28, 1.83, 2.5, 3.1, 3.4, 3.6, 3.8, 3.9, 3.6, 3.0, 1.5, 0.5, 0, 0, 0, null, null, null];
const DLPC329_LOG_HI = [0.4, 0.55, 0.85, 1.32, 1.95, 2.7, 3.5, 4.2, 4.6, 5.0, 5.2, 5.5, 6.0, 5.5, 4.5, 3.5, 2.0, 1.0, null, null, null];
const DLPC329_LOG_RUNS = [
  [1.9, 2.6, 3.3, 3.9, 4.5, 5.2, 5.0, 4.5, 8.3, 4.0, 7.7, 2.0, 0.5, 0, 9.2, 0, 9.2],
  [1.85, 2.55, 3.2, 3.7, 4.1, 4.6, 5.4, 5.0, 7.0, 5.5, 3.0, 6.0, 0.5, 0, null, null, null],
  [1.8, 2.45, 3.0, 3.3, 3.5, 3.8, 4.2, 4.7, 5.0, 7.5, 2.5, 4.0, 0, null, null, null, null],
  [1.8, 2.4, 2.9, 3.1, 3.3, 3.6, 4.0, 3.5, 3.0, 4.0, 1.0, 0, null, null, null, null, null],
  [1.9, 2.6, 3.3, 3.8, 4.2, 4.6, 4.8, 5.8, 6.0, 5.0, 3.0, 5.5, 1.0, 0.0, null, null, null]
];

const PANELS = [
  { title: "DAPC 329 K", offset: "1e\u221211", color: "#7f7f7f", yMax: 6.55, yTicks: DAPC_YTICKS, yLabels: DAPC_YLABELS,
    mean: DAPC_MEAN, lo: DAPC_LO, hi: DAPC_HI, runs: DAPC_RUNS, logMean: DAPC_LOG_MEAN, logLo: DAPC_LOG_LO, logHi: DAPC_LOG_HI, logRuns: DAPC_LOG_RUNS },
  { title: "DPPC 329 K", offset: "1e\u221210", color: "#1f77b4", yMax: 1.46, yTicks: DPPC_YTICKS, yLabels: DPPC_YLABELS,
    mean: DPPC_MEAN, lo: DPPC_LO, hi: DPPC_HI, runs: DPPC_RUNS, logMean: DPPC_LOG_MEAN, logLo: DPPC_LOG_LO, logHi: DPPC_LOG_HI, logRuns: DPPC_LOG_RUNS },
  { title: "PSM 329 K", offset: "1e\u22129", color: "#8c564b", yMax: 1.235, yTicks: PSM_YTICKS, yLabels: PSM_YLABELS,
    mean: PSM_MEAN, lo: PSM_LO, hi: PSM_HI, runs: PSM_RUNS, logMean: PSM_LOG_MEAN, logLo: PSM_LOG_LO, logHi: PSM_LOG_HI, logRuns: PSM_LOG_RUNS },
  { title: "DSPC 343 K", offset: "1e\u221210", color: "#ff7f0e", yMax: 1.5, yTicks: DSPC_YTICKS, yLabels: DSPC_YLABELS,
    mean: DSPC_MEAN, lo: DSPC_LO, hi: DSPC_HI, runs: DSPC_RUNS, logMean: DSPC_LOG_MEAN, logLo: DSPC_LOG_LO, logHi: DSPC_LOG_HI, logRuns: DSPC_LOG_RUNS },
  { title: "DMPC 297 K", offset: "1e\u221210", color: "#e377c2", yMax: 3.2, yTicks: DMPC297_YTICKS, yLabels: DMPC297_YLABELS,
    mean: DMPC297_MEAN, lo: DMPC297_LO, hi: DMPC297_HI, runs: DMPC297_RUNS, logMean: DMPC297_LOG_MEAN, logLo: DMPC297_LOG_LO, logHi: DMPC297_LOG_HI, logRuns: DMPC297_LOG_RUNS },
  { title: "DMPC 329 K", offset: "1e\u221210", color: "#e377c2", yMax: 1.36, yTicks: DMPC329_YTICKS, yLabels: DMPC329_YLABELS,
    mean: DMPC329_MEAN, lo: DMPC329_LO, hi: DMPC329_HI, runs: DMPC329_RUNS, logMean: DMPC329_LOG_MEAN, logLo: DMPC329_LOG_LO, logHi: DMPC329_LOG_HI, logRuns: DMPC329_LOG_RUNS },
  { title: "DOPC 283 K", offset: "1e\u221210", color: "#2ca02c", yMax: 7.13, yTicks: DOPC283_YTICKS, yLabels: DOPC283_YLABELS,
    mean: DOPC283_MEAN, lo: DOPC283_LO, hi: DOPC283_HI, runs: DOPC283_RUNS, logMean: DOPC283_LOG_MEAN, logLo: DOPC283_LOG_LO, logHi: DOPC283_LOG_HI, logRuns: DOPC283_LOG_RUNS },
  { title: "DOPC 329 K", offset: "1e\u221210", color: "#2ca02c", yMax: 1.49, yTicks: DOPC329_YTICKS, yLabels: DOPC329_YLABELS,
    mean: DOPC329_MEAN, lo: DOPC329_LO, hi: DOPC329_HI, runs: DOPC329_RUNS, logMean: DOPC329_LOG_MEAN, logLo: DOPC329_LOG_LO, logHi: DOPC329_LOG_HI, logRuns: DOPC329_LOG_RUNS },
  { title: "DLPC 286 K", offset: "1e\u221210", color: "#d62728", yMax: 3.26, yTicks: DLPC286_YTICKS, yLabels: DLPC286_YLABELS,
    mean: DLPC286_MEAN, lo: DLPC286_LO, hi: DLPC286_HI, runs: DLPC286_RUNS, logMean: DLPC286_LOG_MEAN, logLo: DLPC286_LOG_LO, logHi: DLPC286_LOG_HI, logRuns: DLPC286_LOG_RUNS },
  { title: "DLPC 329 K", offset: "1e\u221211", color: "#d62728", yMax: 9.15, yTicks: DLPC329_YTICKS, yLabels: DLPC329_YLABELS,
    mean: DLPC329_MEAN, lo: DLPC329_LO, hi: DLPC329_HI, runs: DLPC329_RUNS, logMean: DLPC329_LOG_MEAN, logLo: DLPC329_LOG_LO, logHi: DLPC329_LOG_HI, logRuns: DLPC329_LOG_RUNS }
];

// layout
const COL_LEFT = [54, 710];
const ROW_TOP = [43, 306, 568, 831, 1093];
const PLOT_W = 229, PLOT_H = 189;
const LOG_SHIFT = 275;
const LIN_AXIS_W = 60, LOG_AXIS_W = 36, X_AXIS_H = 32, PAD_TOP = 16, PAD_RIGHT = 24;
const INK = "#1a1a1a";
const BAND = "#cccccc";
const TICK_FONT = { family: "DejaVu Serif", size: 20 };

const fig = document.getElementById("fig");

const framePlugin = {
  id: "frame",
  afterDraw(chart) {
    const { ctx, chartArea: a } = chart;
    ctx.save();
    ctx.strokeStyle = INK;
    ctx.lineWidth = 1;
    ctx.strokeRect(Math.round(a.left) - 0.5, Math.round(a.top) - 0.5, Math.round(a.right - a.left) + 1, Math.round(a.bottom - a.top) + 1);
    ctx.restore();
  }
};

// 10^n labels for the log axis, drawn like matplotlib mathtext
const logLabelPlugin = {
  id: "logLabels",
  afterDraw(chart) {
    if (chart.options.scales.x.type !== "logarithmic") return;
    const { ctx, chartArea: a } = chart;
    const s = chart.scales.x;
    const baseline = a.bottom + 23;
    ctx.save();
    ctx.fillStyle = INK;
    ctx.textAlign = "left";
    ctx.textBaseline = "alphabetic";
    LOG_X_TICKS.forEach((v, i) => {
      const px = s.getPixelForValue(v);
      ctx.font = '20px "DejaVu Serif"';
      const wb = ctx.measureText(LOG_X_BASE).width;
      ctx.font = '14px "DejaVu Serif"';
      const we = ctx.measureText(LOG_X_EXPONENTS[i]).width;
      const x0 = px - (wb + we) / 2;
      ctx.font = '20px "DejaVu Serif"';
      ctx.fillText(LOG_X_BASE, x0, baseline);
      ctx.font = '14px "DejaVu Serif"';
      ctx.fillText(LOG_X_EXPONENTS[i], x0 + wb + 1, baseline - 9);
    });
    ctx.restore();
  }
};

function pts(xs, ys) {
  return xs.map((x, i) => ({ x, y: ys[i] }));
}

function buildSets(xs, runXs, color, mean, runs, hi, lo) {
  const base = { pointRadius: 0, tension: 0, clip: 0, spanGaps: false, borderJoinStyle: "round" };
  const smooth = { ...base, cubicInterpolationMode: "monotone" };
  return [
    { ...smooth, data: pts(xs, mean), borderColor: "#000", borderWidth: 3, fill: false, order: 0 },
    ...runs.map(r => ({ ...base, data: pts(runXs, r), borderColor: color, borderWidth: 1.1, fill: false, order: 1 })),
    { ...smooth, data: pts(xs, hi), borderColor: "transparent", borderWidth: 0, backgroundColor: BAND, fill: "+1", order: 2 },
    { ...smooth, data: pts(xs, lo), borderColor: "transparent", borderWidth: 0, fill: false, order: 2 }
  ];
}

function addText(cls, text, x, y) {
  const d = document.createElement("div");
  d.className = cls;
  d.textContent = text;
  d.style.left = x + "px";
  d.style.top = y + "px";
  fig.appendChild(d);
}

function tickGrid() {
  return { display: true, drawOnChartArea: false, drawTicks: true, tickLength: 4, color: INK, lineWidth: 1 };
}

function makeChart(left, top, axisW, p, isLog) {
  const c = document.createElement("canvas");
  const w = axisW + PLOT_W + PAD_RIGHT, h = PAD_TOP + PLOT_H + X_AXIS_H;
  c.width = w; c.height = h;
  c.style.left = left + "px"; c.style.top = top + "px";
  c.style.width = w + "px"; c.style.height = h + "px";
  fig.appendChild(c);

  const xTicks = isLog ? LOG_X_TICKS : LIN_X_TICKS;
  const datasets = isLog
    ? buildSets(LOG_X, RUN_LOG_X, p.color, p.logMean, p.logRuns, p.logHi, p.logLo)
    : buildSets(LIN_X, LIN_X, p.color, p.mean, p.runs, p.hi, p.lo);

  new Chart(c, {
    type: "line",
    data: { datasets },
    options: {
      responsive: false, animation: false, devicePixelRatio: 1, events: [],
      layout: { padding: { top: PAD_TOP, right: PAD_RIGHT, left: 0, bottom: 0 } },
      plugins: { legend: { display: false }, tooltip: { enabled: false } },
      scales: {
        x: {
          type: isLog ? "logarithmic" : "linear",
          min: isLog ? 1e-3 : 0, max: isLog ? 455 : 20,
          afterBuildTicks: s => { s.ticks = xTicks.map(v => ({ value: v })); },
          afterFit: s => { s.height = X_AXIS_H; },
          ticks: { display: !isLog, font: TICK_FONT, color: INK, padding: 1, autoSkip: false, maxRotation: 0, callback: (v, i) => LIN_X_LABELS[i] },
          grid: tickGrid(),
          border: { display: false }
        },
        y: {
          min: 0, max: p.yMax,
          afterBuildTicks: s => { s.ticks = p.yTicks.map(v => ({ value: v })); },
          afterFit: s => { s.width = axisW; },
          ticks: { display: !isLog, font: TICK_FONT, color: INK, padding: 4, autoSkip: false, callback: (v, i) => p.yLabels[i] },
          grid: tickGrid(),
          border: { display: false }
        }
      }
    },
    plugins: [framePlugin, logLabelPlugin]
  });
}

PANELS.forEach((p, i) => {
  const linLeft = COL_LEFT[i % 2];
  const top = ROW_TOP[Math.floor(i / 2)];
  addText("title", p.title, linLeft + 244, top - 37);
  addText("offset", p.offset, linLeft, top - 24);
  makeChart(linLeft - LIN_AXIS_W, top - PAD_TOP, LIN_AXIS_W, p, false);
  makeChart(linLeft + LOG_SHIFT - LOG_AXIS_W, top - PAD_TOP, LOG_AXIS_W, p, true);
});
</script>
</body>
</html>
